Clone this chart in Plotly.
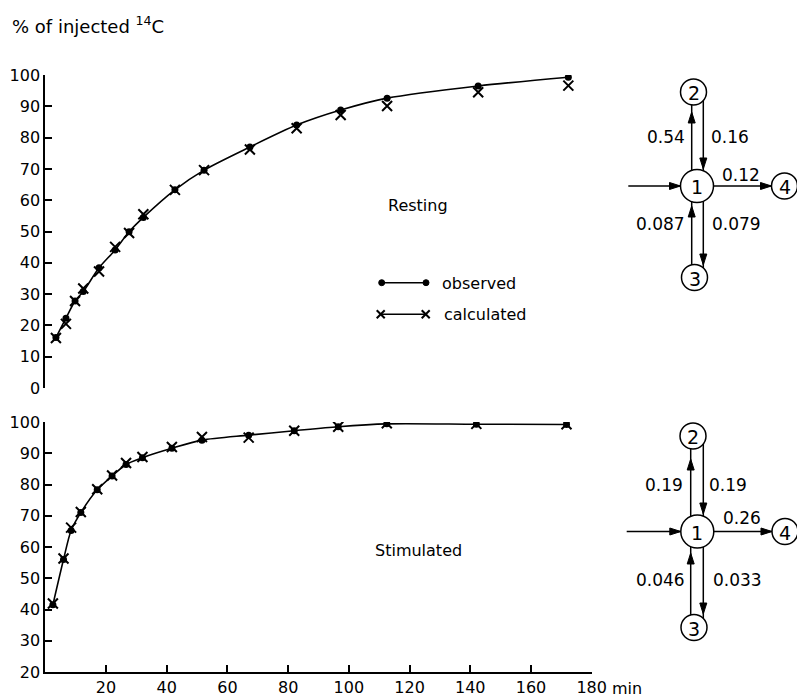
import plotly.graph_objects as go

W, H = 797, 700

# ---------------- data ----------------
# Resting (top panel)
time_rest = [3.5, 6.8, 9.8, 12.5, 17.7, 23.0, 27.6, 32.3, 42.7, 52.3, 67.4, 82.8, 97.3, 112.6, 142.6, 172.3]
obs_rest = [16.1, 22.3, 27.8, 30.8, 38.4, 44.1, 49.9, 54.5, 63.3, 69.6, 77.0, 84.0, 88.8, 92.6, 96.5, 99.3]
calc_rest = [16.0, 20.5, 27.8, 31.8, 37.2, 45.1, 49.5, 55.5, 63.3, 69.6, 76.2, 83.0, 87.2, 90.1, 94.5, 96.6]

# Stimulated (bottom panel)
time_stim = [2.5, 6.0, 8.5, 11.7, 17.1, 22.0, 26.6, 32.0, 41.7, 51.6, 67.0, 82.0, 96.5, 112.5, 142.0, 171.7]
obs_stim = [41.5, 56.0, 65.3, 71.0, 78.3, 82.7, 86.4, 88.6, 91.6, 94.2, 95.8, 97.2, 98.5, 99.4, 99.3, 99.2]
calc_stim = [41.9, 56.3, 66.2, 71.2, 78.5, 82.9, 86.9, 88.8, 92.0, 95.2, 95.0, 97.2, 98.5, 99.6, 99.4, 99.3]

x_ticks = [20, 40, 60, 80, 100, 120, 140, 160, 180]
x_ticktext = ["20", "40", "60", "80", "100", "120", "140", "160", "180"]
y_ticks_rest = [0, 10, 20, 30, 40, 50, 60, 70, 80, 90, 100]
y_ticks_stim = [20, 30, 40, 50, 60, 70, 80, 90, 100]

# rate constants of the compartment models: [1->2, 2->1, 1->4, 3->1, 1->3]
rates_rest = ["0.54", "0.16", "0.12", "0.087", "0.079"]
rates_stim = ["0.19", "0.19", "0.26", "0.046", "0.033"]

# ---------------- helpers ----------------
def px(x):
    return x / W

def py(y):
    return 1 - y / H

FONT = "DejaVu Sans"
BLACK = "black"

fig = go.Figure()

# top panel traces (x2/y2)
fig.add_trace(go.Scatter(x=time_rest, y=obs_rest, mode="lines+markers", xaxis="x2", yaxis="y2",
                         line=dict(color=BLACK, width=1.6, shape="spline", smoothing=0.8),
                         marker=dict(symbol="circle", size=7, color=BLACK), showlegend=False))
fig.add_trace(go.Scatter(x=time_rest, y=calc_rest, mode="markers", xaxis="x2", yaxis="y2",
                         marker=dict(symbol="x-thin", size=10, line=dict(width=2, color=BLACK)),
                         showlegend=False))
# bottom panel traces (x/y)
fig.add_trace(go.Scatter(x=time_stim, y=obs_stim, mode="lines+markers", xaxis="x", yaxis="y",
                         line=dict(color=BLACK, width=1.6, shape="spline", smoothing=0.8),
                         marker=dict(symbol="circle", size=7, color=BLACK), showlegend=False))
fig.add_trace(go.Scatter(x=time_stim, y=calc_stim, mode="markers", xaxis="x", yaxis="y",
                         marker=dict(symbol="x-thin", size=10, line=dict(width=2, color=BLACK)),
                         showlegend=False))

axis_common = dict(showline=True, linecolor=BLACK, linewidth=2, ticks="inside", ticklen=7,
                   tickwidth=2, tickcolor=BLACK, showgrid=False, zeroline=False,
                   tickfont=dict(family=FONT, size=16, color=BLACK), automargin=False)

x_dom = [px(45.3), px(591.7)]

fig.update_layout(
    width=W, height=H, autosize=False, template="none",
    margin=dict(l=0, r=0, t=0, b=0),
    paper_bgcolor="white", plot_bgcolor="rgba(0,0,0,0)",
    xaxis=dict(axis_common, domain=x_dom, range=[0, 180], tickvals=x_ticks, ticktext=x_ticktext,
               anchor="y", ticklabelstandoff=0),
    yaxis=dict(axis_common, domain=[py(672), py(422)], range=[20, 100], tickvals=y_ticks_stim,
               anchor="x"),
    xaxis2=dict(domain=x_dom, range=[0, 180], visible=False, anchor="y2"),
    yaxis2=dict(axis_common, domain=[py(388), py(75)], range=[0, 100], tickvals=y_ticks_rest,
                anchor="x2"),
    xaxis3=dict(axis_common, domain=[px(45.3), px(543.3)], range=[0, 180], tickvals=x_ticks,
                showticklabels=False, anchor="y2"),
)

shapes = []
annotations = []

def text(x, y, s, size=16, anchor="center"):
    annotations.append(dict(x=px(x), y=py(y), xref="paper", yref="paper", text=s, showarrow=False,
                            xanchor=anchor, yanchor="middle",
                            font=dict(family=FONT, size=size, color=BLACK)))

def line(x0, y0, x1, y1, w=1.5):
    shapes.append(dict(type="line", xref="paper", yref="paper", x0=px(x0), y0=py(y0), x1=px(x1),
                       y1=py(y1), line=dict(color=BLACK, width=w)))

def circle(cx, cy, r, fill=None, w=1.5):
    shapes.append(dict(type="circle", xref="paper", yref="paper", x0=px(cx - r), x1=px(cx + r),
                       y0=py(cy + r), y1=py(cy - r), line=dict(color=BLACK, width=w),
                       fillcolor=fill if fill else "rgba(0,0,0,0)"))

def head(tx, ty, dx, dy, L=11, Wd=7):
    n = (dx * dx + dy * dy) ** 0.5
    ux, uy = dx / n, dy / n
    bx, by = tx - ux * L, ty - uy * L
    pxv, pyv = -uy, ux
    p1 = (bx + pxv * Wd / 2, by + pyv * Wd / 2)
    p2 = (bx - pxv * Wd / 2, by - pyv * Wd / 2)
    path = "M {:.5f},{:.5f} L {:.5f},{:.5f} L {:.5f},{:.5f} Z".format(
        px(tx), py(ty), px(p1[0]), py(p1[1]), px(p2[0]), py(p2[1]))
    shapes.append(dict(type="path", xref="paper", yref="paper", path=path, fillcolor=BLACK,
                       line=dict(color=BLACK, width=1)))

def arrow(x0, y0, x1, y1, tx, ty):
    line(x0, y0, x1, y1)
    head(tx, ty, x1 - x0, y1 - y0)

def diagram(c1, c2, c3, c4, xl, xr, ins_x0, labels, lab_pos, tips):
    circle(c1[0], c1[1], 16.5)
    circle(c2[0], c2[1], 13)
    circle(c3[0], c3[1], 13)
    circle(c4[0], c4[1], 13)
    text(c1[0], c1[1] + 1, "1", size=19)
    text(c2[0], c2[1] + 1, "2", size=19)
    text(c3[0], c3[1] + 1, "3", size=19)
    text(c4[0], c4[1] + 1, "4", size=19)

    def ytop(c, r, x):
        return c[1] - (r * r - (x - c[0]) ** 2) ** 0.5

    def ybot(c, r, x):
        return c[1] + (r * r - (x - c[0]) ** 2) ** 0.5

    arrow(xl, ytop(c1, 16.5, xl), xl, ybot(c2, 13, xl), xl, tips[0])   # 1 -> 2
    arrow(xr, ybot(c2, 13, xr), xr, ytop(c1, 16.5, xr), xr, tips[1])   # 2 -> 1
    arrow(xl, ytop(c3, 13, xl), xl, ybot(c1, 16.5, xl), xl, tips[2])   # 3 -> 1
    arrow(xr, ybot(c1, 16.5, xr), xr, ytop(c3, 13, xr), xr, tips[3])   # 1 -> 3
    arrow(ins_x0, c1[1], c1[0] - 16.5, c1[1], c1[0] - 16.5, c1[1])     # input
    arrow(c1[0] + 16.5, c1[1], c4[0] - 13, c4[1], c4[0] - 13, c4[1])   # 1 -> 4
    for s, (x, y, a) in zip(labels, lab_pos):
        text(x, y, s, size=17, anchor=a)

# top (resting) model
diagram(c1=(697, 186), c2=(693.5, 92), c3=(694.5, 277.5), c4=(784.5, 186), xl=691.7, xr=703.3,
        ins_x0=628.3, labels=rates_rest,
        lab_pos=[(687, 137.5, "right"), (709, 137.5, "left"), (741, 174.5, "center"),
                 (687, 223.5, "right"), (710, 223.5, "left")],
        tips=[112, 169, 206, 265])
# bottom (stimulated) model
diagram(c1=(697.3, 531.5), c2=(693, 436), c3=(694, 627.5), c4=(785, 531.5), xl=690.7, xr=703.3,
        ins_x0=626.7, labels=rates_stim,
        lab_pos=[(685, 485, "right"), (707, 485, "left"), (741.5, 517.5, "center"),
                 (687, 580, "right"), (711, 580, "left")],
        tips=[459, 514, 553, 614])

# legend (hand-drawn key)
line(381.7, 282.7, 426, 282.7, w=1.5)
circle(381.7, 282.7, 3, fill=BLACK, w=1)
circle(426, 282.7, 3, fill=BLACK, w=1)
line(380.7, 314.3, 425.7, 314.3, w=1.5)
for cx in (380.7, 425.7):
    line(cx - 4, 314.3 - 4, cx + 4, 314.3 + 4, w=2)
    line(cx - 4, 314.3 + 4, cx + 4, 314.3 - 4, w=2)
text(440, 283, "observed", size=16, anchor="left")
text(441.5, 314, "calculated", size=16, anchor="left")

# panel labels and titles
text(418, 206, "Resting", size=16)
text(418, 550, "Stimulated", size=16)
text(10, 25, "% of injected <sup>14</sup>C", size=18, anchor="left")
text(610, 688, "min", size=16, anchor="left")

fig.update_layout(shapes=shapes, annotations=annotations)

fig.write_html("out.html")
